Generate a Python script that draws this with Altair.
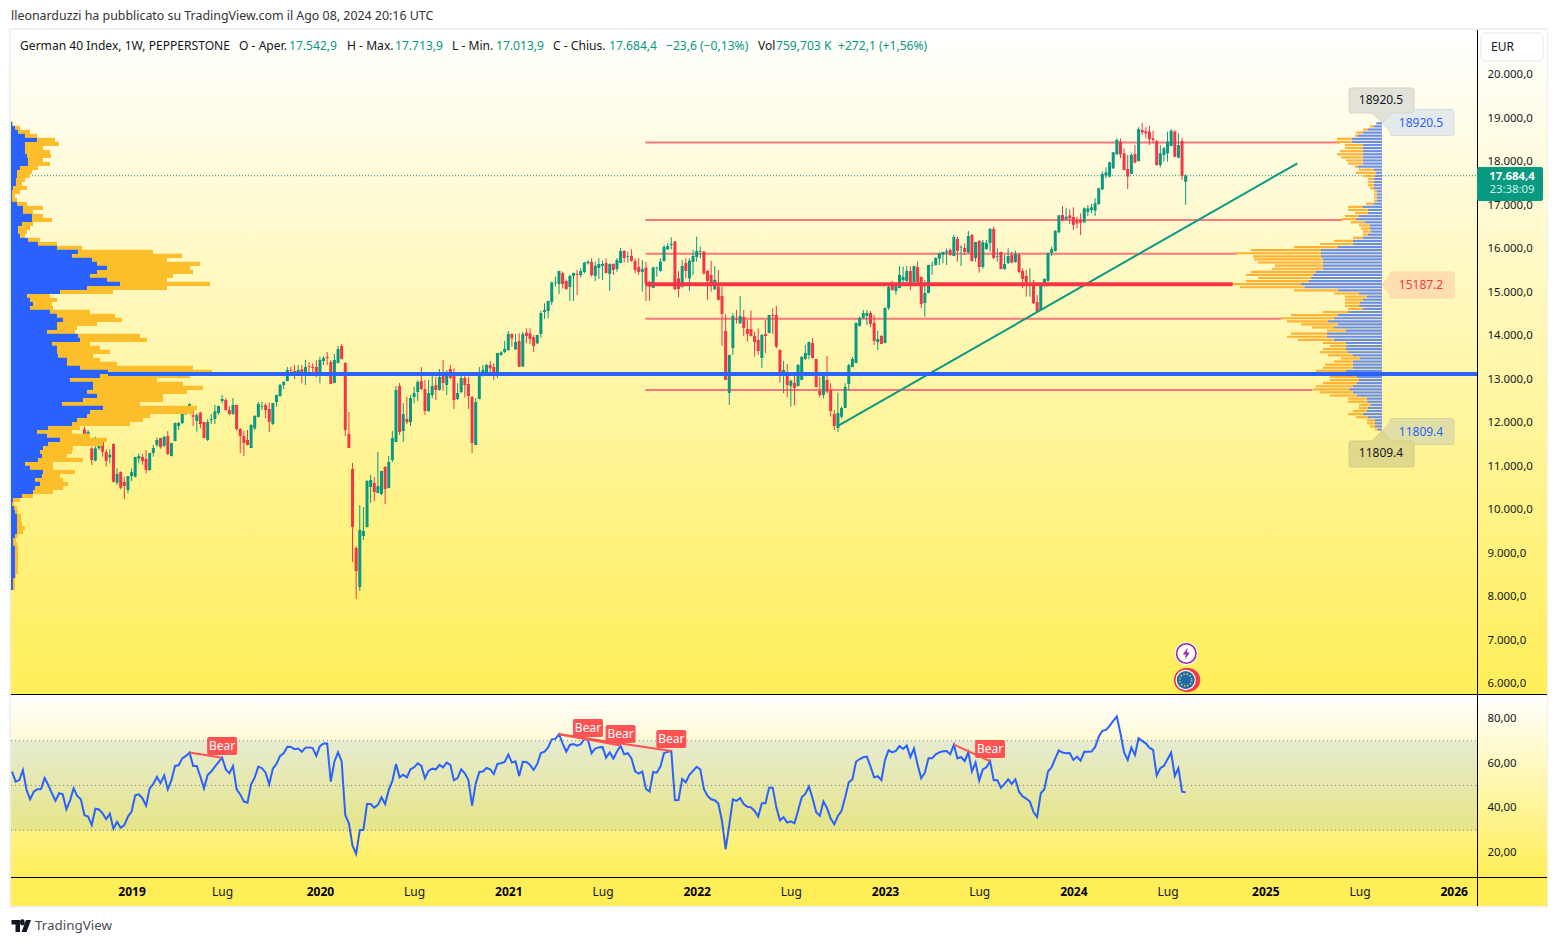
import altair as alt
import numpy as np
import pandas as pd

# ---------- weekly candles, first bar 2018-10-08 ----------
open_ = [11854,11609,11417,11133,11417,11570,11333,11210,11517,10628,
10873,10643,10459,
10781,10766,11179,11218,11172,10919,11310,11494,11655,11471,
11700,11241,11586,11930,11999,12206,12375,12176,12045,12237,
12022,11609,12068,12091,12229,12505,12528,12298,12206,12413,
11861,11700,11609,11425,11877,12137,12375,12413,12321,11976,
12482,12620,12873,12965,13210,13195,13172,13233,13172,13302,
13287,13287,13172,13425,13517,13402,12919,13379,13770,13379,
11747,10942,9126,8229,9402,9608,10528,10620,10390,10367,
10988,10505,11149,11563,12850,11815,12091,12022,12597,12712,
12965,12781,12275,12643,12873,12758,13080,12873,13241,13080,
12551,12712,13034,12896,12597,11494,12551,13126,13172,13333,
13287,13172,13563,13632,13678,14045,13693,13884,13295,14077,
14062,13970,13832,14046,14552,14575,14782,15226,15196,15449,
15265,15127,15380,15426,15403,15472,15671,15701,15380,15563,
15609,15678,15426,15655,15540,15678,15954,15824,15839,15724,
15587,15472,15571,15249,15104,15556,15495,15724,15993,16092,
16169,15326,15134,15678,15326,15701,15816,15939,15939,15495,
15403,15073,15134,14920,14115,12690,13724,14383,14292,14437,
14161,14161,14000,13908,13495,14046,14069,14483,14483,13678,
13104,13173,12851,12920,12851,12989,13471,13563,13839,13471,
12736,12644,12989,12759,12207,11885,12146,12345,12897,13288,
13380,14230,14414,14460,14529,14299,13862,14000,13839,14644,
15173,15035,15104,15288,15265,15495,15242,15587,15357,14759,
14989,15617,15632,15778,15862,15916,15977,15839,16230,16031,
16023,15916,16322,15793,16184,15587,16000,16138,16460,15824,
15931,15540,15678,15862,15701,15862,15495,15380,15180,15173,
14782,14598,15165,15265,15908,15954,16383,16781,16682,16774,
16735,16666,16666,16613,16850,16896,16881,17034,17371,17686,
17663,17854,18176,18467,18199,17839,17724,18184,18023,18735,
18705,18697,18544,18483,17931,18161,18199,18368,18697,18099,
18483,17542.9]
high = [11915,11830,11455,11685,11640,11570,11394,11394,11532,10957,
10888,10766,10781,
10957,11225,11302,11287,11379,11310,11494,11670,11655,11700,
11815,11540,12015,12022,12260,12375,12450,12375,12222,12260,
12030,12084,12206,12413,12400,12643,12574,12390,12574,12420,
11884,11815,11838,11976,12183,12482,12482,12451,12467,12467,
12650,12896,12965,13287,13294,13333,13333,13333,13448,13402,
13371,13448,13524,13540,13632,13448,13586,13770,13816,13402,
12252,11080,9172,10114,10068,10689,10804,10758,11333,10900,
11011,11241,11815,12850,12919,12459,12597,12643,12835,12988,
13287,12988,12988,13103,13064,13241,13448,13218,13333,13256,
12911,13126,13103,13064,12620,12574,13287,13333,13356,13425,
13371,13615,13650,13884,14114,14061,14045,14061,14100,14176,
14176,14023,14030,14575,14751,14810,15249,15364,15500,15479,
15303,15403,15456,15517,15556,15709,15740,15786,15709,15786,
15732,15786,15671,15671,15793,16023,15977,15939,15993,15786,
15786,15747,15709,15250,15594,15594,15786,16092,16131,16269,
16184,15495,15747,15786,15786,15977,16284,16054,15954,15518,
15724,15609,15518,15134,14506,13570,14521,14598,14920,14598,
14368,14583,14100,14176,14046,14368,14490,14636,14690,13694,
13426,13357,13004,13157,13357,13540,13793,13870,13954,13475,
13065,13085,13540,12912,12299,12697,12376,12912,13357,13518,
14314,14445,14598,14598,14575,14483,14123,14023,14659,15173,
15265,15211,15609,15594,15609,15609,15615,15709,15364,15288,
15640,15709,15809,15916,15940,16008,16016,16322,16284,16092,
16131,16414,16345,16165,16207,16207,16207,16483,16514,16016,
15939,15862,16016,15939,15962,15901,15556,15518,15556,15288,
14943,15211,15326,15924,16054,16437,16780,16988,16935,16912,
16958,16743,16820,16958,17011,17034,17165,17400,17778,17877,
18007,18230,18544,18544,18314,18161,18214,18391,18797,18904,
18797,18827,18720,18506,18391,18352,18697,18758,18735,18659,
18559,17713.9]
low = [11647,11570,11034,11118,11380,11225,10996,11072,10628,10574,
10474,10252,10382,
10666,10750,11072,11034,10842,10900,11225,11455,11409,11455,
11264,11230,11578,11838,11976,12183,12360,11930,11800,11877,
11650,11586,11976,11976,12183,12451,12283,12176,12191,11823,
11310,11241,11486,11420,11838,12130,12298,12107,11792,11953,
12375,12605,12781,12957,13103,13011,13126,12911,12873,13172,
13172,13049,12911,13333,13333,12890,12915,13371,13463,11700,
11420,8804,7953,8137,9310,9600,10160,10206,10382,10344,
10137,10500,11103,11560,11723,11563,11976,11930,12451,12505,
12758,12183,12252,12566,12528,12743,12743,12643,13003,12321,
12528,12681,12582,12321,11310,11490,12545,13064,13126,13126,
12988,13034,13540,13601,13662,13754,13678,13290,13288,13832,
13816,13632,13816,13962,14391,14406,14713,15134,14966,15096,
15058,14805,14805,14943,15341,15441,15640,15364,15265,15311,
15288,15441,15035,15403,15479,15671,15686,15686,15709,15441,
15403,15019,14805,14805,15096,15364,15479,15709,15977,15993,
15058,14889,15111,15326,15035,15403,15709,15786,15403,14828,
15019,15058,14820,13770,12985,12414,13563,14292,14276,14000,
13870,13985,13525,13563,13265,13602,14062,14046,13717,12927,
12682,12590,12376,12406,12835,12985,13449,13464,13479,12820,
12590,12567,12682,12146,11839,11793,12107,12340,12743,13280,
13375,14215,14399,14253,14200,13793,13678,13810,13832,14598,
15043,14950,15096,15173,15173,15058,15226,15211,14644,14445,
14981,15403,15617,15632,15671,15632,15847,15835,15709,15609,
15862,15901,15709,15709,15456,15548,15977,15939,15763,15709,
15533,15518,15655,15671,15686,15441,15096,14904,14904,14736,
14537,14583,15134,15249,15839,15939,16360,16628,16666,16574,
16437,16475,16322,16605,16758,16820,16758,17011,17356,17624,
17647,17839,18161,18084,17810,17379,17720,17969,18007,18620,
18544,18391,18429,17908,17877,18007,18007,18360,18107,18084,
17586,17013.9]
close = [11685,11800,11149,11417,11570,11340,11126,11271,10651,10827,
10513,10551,10781,
10873,11218,11241,11126,10919,11310,11425,11609,11448,11685,
11287,11540,11999,11999,12229,12260,12436,12145,12183,11976,
11655,12022,12091,12268,12390,12551,12298,12206,12413,11861,
11700,11540,11494,11953,12160,12436,12390,12298,12022,12459,
12643,12873,12942,13218,13195,13172,13218,13172,13287,13287,
13264,13172,13448,13494,13494,12896,13448,13701,13471,11838,
11425,9608,8597,9540,9517,10666,10689,10413,10551,10896,
10482,11103,11655,12758,11792,12206,12022,12574,12689,12942,
12781,12275,12689,12850,12758,13057,12919,13080,13034,12528,
12689,13034,12873,12620,11540,12482,13103,13218,13333,13256,
13157,13609,13624,13701,14045,13946,13861,13295,14046,14000,
13931,13770,14023,14529,14598,14805,15226,15242,15495,15196,
15081,15380,15449,15403,15495,15686,15709,15403,15617,15655,
15655,15449,15655,15517,15747,15954,15793,15839,15724,15517,
15472,15540,15211,15134,15571,15571,15709,16046,16069,16115,
15073,15081,15609,15495,15732,15839,15954,15954,15441,15265,
15173,15288,14828,14506,12989,13563,14460,14368,14460,14184,
14046,14000,13862,13655,14023,14000,14483,14460,13755,13173,
13219,12874,12966,12805,13334,13518,13609,13862,13495,12828,
12644,13081,12720,12276,11931,12230,12345,12828,13334,13471,
14299,14414,14529,14529,14276,13885,13931,13816,14644,15127,
15058,15173,15403,15357,15495,15196,15609,15242,14736,14989,
15632,15632,15793,15901,15931,15947,15862,16276,15954,16046,
15931,16299,15724,16161,15587,16161,16138,16460,15793,15839,
15540,15655,15839,15686,15885,15472,15311,15242,15196,14751,
14552,15173,15311,15908,16000,16414,16774,16666,16743,16705,
16551,16590,16605,16935,16935,16958,17050,17394,17724,17762,
17992,18222,18506,18176,17816,17663,18161,17984,18758,18682,
18659,18521,18506,17931,18199,18314,18467,18720,18122,18391,
17678,17684.4]

# ---------- weekly RSI, first value 2018-05-21 ----------
rsi = [56.2,51.7,52.4,56.9,48.0,43.8,47.2,48.3,48.4,53.3,50.2,46.5,43.2,46.5,46.0,39.3,43.2,48.7,45.3,43.8,
36.7,36.1,32.3,39.6,39.3,37.5,34.9,37.4,30.7,33.8,31.1,32.3,36.1,
38.3,45.6,46.0,44.3,41.0,48.7,50.7,53.8,51.0,54.5,
48.3,52.4,58.7,59.0,62.1,63.2,64.7,58.7,58.7,53.9,
48.7,54.7,56.2,58.4,60.4,62.4,57.2,55.4,58.7,48.3,
46.0,42.8,42.3,50.5,53.6,58.4,57.7,55.7,50.5,57.5,
59.6,63.2,64.4,67.3,67.2,66.2,66.5,65.0,66.9,67.0,
66.7,63.2,67.6,68.7,68.7,51.7,60.7,64.8,60.7,36.7,
33.1,23.1,19.4,30.1,30.1,41.7,41.7,40.1,41.3,44.6,
41.7,48.0,52.0,59.6,53.6,54.8,53.6,57.2,58.1,59.9,
58.7,53.2,56.5,57.5,57.2,59.2,58.1,60.2,59.2,52.3,
53.3,57.2,55.4,52.4,41.0,50.8,56.0,56.2,57.8,57.2,
55.1,59.6,59.9,60.5,63.8,60.2,60.8,54.2,60.6,60.5,
59.2,56.9,59.6,64.5,65.1,67.0,70.6,70.8,72.9,68.8,
65.1,68.1,68.5,67.8,68.4,70.8,70.3,64.4,66.5,67.0,
67.2,62.4,64.8,62.0,65.1,67.8,63.9,64.4,62.1,56.3,
55.3,56.2,48.4,47.3,56.0,55.7,58.4,64.5,65.0,65.4,
43.4,43.5,52.9,51.4,54.7,56.5,58.3,57.2,48.4,45.3,
43.8,43.4,41.9,34.1,21.5,32.3,43.8,43.1,44.3,41.7,
40.5,40.2,38.6,36.1,42.0,42.0,49.0,49.0,40.2,34.4,
35.8,33.4,34.0,33.1,38.7,44.7,46.2,49.5,44.3,38.0,
36.4,42.8,39.8,35.2,32.6,36.4,38.7,44.7,51.4,52.7,
60.6,61.8,62.6,62.9,58.4,53.6,54.1,52.4,61.4,65.7,
64.8,65.4,67.6,66.3,67.8,62.7,66.5,59.2,53.2,55.7,
62.1,62.1,63.9,64.8,65.3,65.4,63.9,68.2,62.1,62.7,
60.9,64.8,56.2,60.2,52.2,57.2,58.1,60.9,52.3,52.4,
49.0,50.7,52.7,50.7,52.7,47.2,45.1,44.1,42.8,38.1,
35.8,46.5,48.3,56.2,58.1,62.1,65.6,64.7,64.4,64.5,
61.4,62.9,61.1,65.0,65.0,65.1,67.1,71.8,74.4,74.8,
76.6,78.8,80.8,73.3,64.7,61.4,66.9,63.6,71.1,69.9,
68.8,66.9,65.9,54.5,57.7,58.7,61.7,64.7,54.2,57.7,
47.2,46.9]

# ---------- volume profile on the left (fixed range) ----------
left_up = [1,4,7,14,26,14,14,14,16,17,17,9,6,6,5,5,2,1,1,1,6,12,12,21,21,11,7,7,9,17,27,46,67,61,81,86,96,86,79,96,109,76,49,16,19,22,19,
39,46,52,46,46,36,67,69,41,46,46,47,56,56,69,97,89,59,82,82,76,86,72,51,92,79,76,66,61,37,26,36,49,37,32,29,31,27,14,19,32,31,24,29,24,22,11,2,1,3,4,6,6,6,6,6,4,2,2,4,
4,4,4,4,4,4,4,2,2,2]
left_total = [2,9,19,26,44,48,32,39,40,32,39,27,21,19,14,11,16,9,4,6,16,32,22,32,41,22,19,16,14,29,46,71,142,171,156,189,179,182,162,156,199,156,102,39,46,41,42,
79,104,111,86,66,64,129,136,79,89,99,82,89,106,182,201,179,146,172,192,176,152,152,129,186,182,139,132,119,69,61,79,96,92,62,61,56,72,42,42,64,49,52,57,52,42,22,9,3,6,7,10,10,11,14,12,7,5,6,7,
7,7,7,7,7,7,5,4,4,4]

# ---------- visible range volume profile on the right (100 rows) ----------
right_up = [5.7,8,14,19,24,30,30,19,19,19,19,19,19,19,24,8,6,7,8,8,8,8,5,5,5,5,8,19,14,14,23,26,17,12,12,11,14,19,29,29,44,61,61,61,59,59,59,59,66,69,71,73,81,77,44,
23,15,19,22,23,19,34,44,48,54,44,48,36,55,55,48,36,36,36,34,29,22,29,29,29,36,36,25,23,25,29,33,29,25,15,15,11,14,15,19,14,7,7,7,4]
right_total = [5.7,12,19,26,27,45,47,37,37,42,45,41,36,34,27,23,26,19,14,14,14,12,8,8,8,8,16,34,34,27,37,41,31,23,21,19,19,29,48,62,88,131,146,129,128,124,107,110,131,136,124,136,149,142,88,
48,37,37,37,37,34,59,91,101,95,81,70,55,91,95,84,59,52,59,62,54,41,48,57,59,66,66,52,52,59,66,69,62,52,34,34,23,23,29,34,26,15,15,12,7]

# ---------- drawn levels ----------
level_price = [18445, 16667, 15893, 14398, 12759]
level_end = ["2025-05-30", "2025-06-03", "2024-11-12", "2025-02-05", "2025-04-07"]
level_start = "2021-09-26"
poc_red = 15187.2
poc_blue = 13126
last_price = 17684.4
trend_dates = ["2022-10-03", "2025-03-09"]
trend_price = [11931, 17970]

year_ticks = ["2019-01-07","2020-01-06","2021-01-04","2022-01-03","2023-01-02","2024-01-01","2025-01-06","2026-01-05"]
july_ticks = ["2019-07-01","2020-07-06","2021-07-05","2022-07-04","2023-07-03","2024-07-01","2025-07-07"]
price_ticks = [6000,7000,8000,9000,10000,11000,12000,13000,14000,15000,16000,17000,18000,19000,20000]
rsi_ticks = [20,40,60,80]
rsi_levels = [70,50,30]

bear_start = ["2019-04-29","2021-04-12","2021-04-12","2021-04-12","2023-05-15"]
bear_end = ["2019-07-01","2021-06-07","2021-08-09","2021-11-15","2023-07-24"]
bear_from = [64.7,72.9,72.9,72.9,68.2]
bear_to = [62.4,70.8,67.8,65.4,60.9]
bear_label = [67.65,75.7,73.0,70.8,66.3]

BG_TOP, BG_BOT = "#FFFFFF", "#FFEE58"
GREEN, RED, BLUE = "#089981", "#F23645", "#2962FF"
FONT = "Noto Sans"
W, H = 1536, 876
PLOT_W = 1466


def ms(d):
    return int(pd.Timestamp(d, tz="UTC").timestamp() * 1000)


x_time = alt.Scale(type="utc", domain=[ms("2018-05-19"), ms("2026-02-19")], range=[0, PLOT_W])
y_price = alt.Scale(domain=[5770, 21034], range=[664, 0])
y_rsi = alt.Scale(domain=[9.1, 90.4], range=[847, 665])
x_left = alt.Scale(domain=[0, PLOT_W], range=[0, PLOT_W])
x_right = alt.Scale(domain=[0, 1371], range=[1371, 0])

dates = pd.date_range("2018-10-08", periods=len(close), freq="7D").strftime("%Y-%m-%d")
candles = pd.DataFrame({"d": dates, "o": open_, "h": high, "l": low, "c": close})
candles["top"] = candles[["o", "c"]].max(axis=1)
candles["bot"] = candles[["o", "c"]].min(axis=1)
up = candles[candles.c >= candles.o]
dn = candles[candles.c < candles.o]

rsi_df = pd.DataFrame({"d": pd.date_range("2018-05-21", periods=len(rsi), freq="7D").strftime("%Y-%m-%d"), "v": rsi})

row = np.arange(len(left_up))
left_df = pd.DataFrame({"p1": 18875 + 48 - 91.95 * row, "p2": 18875 - 48 - 91.95 * row,
                        "zero": 0, "up": left_up, "total": left_total})
step = (18920.5 - 11809.4) / 100
row = np.arange(len(right_up))
right_df = pd.DataFrame({"p1": 18920.5 - step * row - step * 0.10, "p2": 18920.5 - step * row - step * 0.80,
                         "zero": 0, "up": right_up, "total": right_total})
level_df = pd.DataFrame({"a": level_start, "b": level_end, "p": level_price})
trend_df = pd.DataFrame({"d": trend_dates, "p": trend_price})
bear_df = pd.DataFrame({"a": bear_start, "b": bear_end, "v1": bear_from, "v2": bear_to, "c": bear_label})
one = alt.Data(values=[{"a": 1}])


def X(f="d:T", **kw):
    return alt.X(f, scale=x_time, axis=kw.pop("axis", None), title=None)


def YP(f, **kw):
    return alt.Y(f, scale=y_price, axis=kw.pop("axis", None), title=None)


def YR(f, **kw):
    return alt.Y(f, scale=y_rsi, axis=kw.pop("axis", None), title=None)


def px_rect(x1, x2, y1, y2, **mk):
    return alt.Chart(one).mark_rect(**mk).encode(
        x=alt.value(x1 - 11), x2=alt.value(x2 - 11), y=alt.value(y1 - 30), y2=alt.value(y2 - 30))


def px_text(s, x, y, color="#131722", size=12.1, weight="normal", align="left", font=FONT):
    return alt.Chart(one).mark_text(text=s, color=color, fontSize=size, fontWeight=weight, align=align,
                                    baseline="middle", font=font).encode(
        x=alt.value(x - 11), y=alt.value(y - 30))


def px_sym(shape, x, y, size=4, **mk):
    return alt.Chart(one).mark_point(shape=shape, size=size, opacity=1, **mk).encode(
        x=alt.value(x - 11), y=alt.value(y - 30))


def px_hline(y, color="#000000", x1=11, x2=1547, width=1):
    return alt.Chart(one).mark_rule(color=color, strokeWidth=width).encode(
        x=alt.value(x1 - 11), x2=alt.value(x2 - 11), y=alt.value(y - 30))


grad = alt.LinearGradient(gradient="linear", x1=0, x2=0, y1=0, y2=1,
                          stops=[alt.GradientStop(color=BG_TOP, offset=0), alt.GradientStop(color=BG_BOT, offset=1)])

layers = [
    px_rect(9, 1548, 28, 908, color="#EEF0F5"),
    px_rect(11, 1547, 30, 694, color=grad),
    px_rect(11, 1547, 695, 877, color=grad),
    px_rect(11, 1547, 877, 906, color=BG_BOT),
]

# RSI band and dotted levels
layers.append(alt.Chart(one).mark_rect(color="#056FA3", opacity=0.1).encode(
    x=alt.value(0), x2=alt.value(PLOT_W), y=YR("datum_a:Q"), y2=alt.Y2("datum_b:Q")
).transform_calculate(datum_a="70", datum_b="30"))
layers.append(alt.Chart(pd.DataFrame({"v": rsi_levels})).mark_rule(color="#787B86", strokeDash=[1, 3], strokeWidth=1).encode(
    x=alt.value(0), x2=alt.value(PLOT_W), y=YR("v:Q")))

# thin levels below the candles
layers.append(alt.Chart(level_df).mark_rule(color="#F9777B", strokeWidth=2).encode(
    x=X("a:T"), x2="b:T", y=YP("p:Q")))

# candles
price_axis = alt.Axis(orient="right", offset=-(W - PLOT_W), values=price_ticks, domain=False, ticks=False, grid=False,
                      labelPadding=10, labelFontSize=11.4, labelColor="#131722", labelFont=FONT, zindex=1,
                      labelExpr="replace(format(datum.value, ',d'), ',', '.') + ',0'", labelOverlap=False, labelBound=False)
layers += [
    alt.Chart(up).mark_rule(color=GREEN, strokeWidth=1).encode(x=X(), y=YP("l:Q"), y2="h:Q"),
    alt.Chart(dn).mark_rule(color=RED, strokeWidth=1).encode(x=X(), y=YP("l:Q"), y2="h:Q"),
    alt.Chart(up).mark_rule(color=GREEN, strokeWidth=3).encode(x=X(), y=YP("bot:Q", axis=price_axis), y2="top:Q"),
    alt.Chart(dn).mark_rule(color=RED, strokeWidth=3).encode(x=X(), y=YP("bot:Q"), y2="top:Q"),
]

# last price dotted line, trend line
layers.append(alt.Chart(pd.DataFrame({"p": [last_price]})).mark_rule(color=GREEN, strokeDash=[1, 2], strokeWidth=1).encode(
    x=alt.value(0), x2=alt.value(PLOT_W), y=YP("p:Q")))
layers.append(alt.Chart(trend_df).mark_line(color=GREEN, strokeWidth=2).encode(x=X(), y=YP("p:Q")))

# thick point-of-control line, red
layers.append(alt.Chart(pd.DataFrame({"a": [level_start], "b": ["2024-11-04"], "p": [poc_red]})).mark_rule(color=RED, strokeWidth=4).encode(
    x=X("a:T"), x2="b:T", y=YP("p:Q")))

# left profile
layers += [
    alt.Chart(left_df).mark_rect(color="#FCBF2B").encode(
        x=alt.X("up:Q", scale=x_left, axis=None), x2="total:Q", y=YP("p1:Q"), y2="p2:Q"),
    alt.Chart(left_df).mark_rect(color=BLUE).encode(
        x=alt.X("zero:Q", scale=x_left, axis=None), x2="up:Q", y=YP("p1:Q"), y2="p2:Q"),
]
# right profile
layers += [
    alt.Chart(right_df).mark_rect(color="#FFB233").encode(
        x=alt.X("up:Q", scale=x_right, axis=None), x2="total:Q", y=YP("p1:Q"), y2="p2:Q"),
    alt.Chart(right_df).mark_rect(color="#6B8EE8").encode(
        x=alt.X("zero:Q", scale=x_right, axis=None), x2="up:Q", y=YP("p1:Q"), y2="p2:Q"),
]
# blue point-of-control line
layers.append(alt.Chart(pd.DataFrame({"p": [poc_blue]})).mark_rule(color=BLUE, strokeWidth=4).encode(
    x=alt.value(108 - 11), x2=alt.value(PLOT_W), y=YP("p:Q")))

# RSI line + divergences
time_axis = alt.Axis(orient="bottom", offset=-29, values=[ms(d) for d in year_ticks + july_ticks], domain=False, ticks=False,
                     grid=False, labelPadding=9, labelFontSize=12, labelFont=FONT, zindex=1, labelOverlap=False,
                     labelBound=False, labelFlush=False, labelAngle=0,
                     labelExpr="utcmonth(datum.value) == 0 ? '' + utcyear(datum.value) : 'Lug'",
                     labelFontWeight={"condition": {"test": "utcmonth(datum.value) == 0", "value": "bold"}, "value": "normal"},
                     labelColor={"condition": {"test": "utcmonth(datum.value) == 0", "value": "#000000"}, "value": "#131722"})
rsi_axis = alt.Axis(orient="right", offset=-(W - PLOT_W), values=rsi_ticks, domain=False, ticks=False, grid=False,
                    labelPadding=10, labelFontSize=11.4, labelColor="#131722", labelFont=FONT, zindex=1,
                    labelExpr="replace(format(datum.value, '.2f'), '.', ',')", labelBound=False)
layers.append(alt.Chart(rsi_df).mark_line(color=BLUE, strokeWidth=2).encode(
    x=alt.X("d:T", scale=x_time, axis=time_axis, title=None), y=YR("v:Q", axis=rsi_axis)))
layers.append(alt.Chart(bear_df).mark_rule(color="#FF5252", strokeWidth=2).encode(
    x=X("a:T"), x2="b:T", y=YR("v1:Q"), y2="v2:Q"))
bear_box = "M-13-9H13Q15-9 15-7V7Q15 9 13 9H-13Q-15 9-15 7V-7Q-15-9-13-9Z"
layers.append(alt.Chart(bear_df).mark_point(shape=bear_box, size=4, filled=True, fill="#FF5252", opacity=1).encode(
    x=X("b:T"), y=YR("c:Q")))
layers.append(alt.Chart(bear_df.assign(t="Bear")).mark_text(color="#FFFFFF", fontSize=12, font=FONT, baseline="middle").encode(
    x=X("b:T"), y=YR("c:Q"), text="t:N"))

# frame lines
layers += [
    px_hline(694.5),
    px_hline(877.5),
    alt.Chart(one).mark_rule(color="#000000", strokeWidth=1).encode(
        x=alt.value(1477.5 - 11), y=alt.value(0), y2=alt.value(876)),
]

# price tags (tip at origin of each path)
tag_right = "M0 0L8-9V-11Q8-13 10-13H70Q72-13 72-11V11Q72 13 70 13H10Q8 13 8 11V9Z"
tag_up = "M0 0L-10-9H-31Q-33-9-33-11V-32Q-33-34-31-34H30Q32-34 32-32V-11Q32-9 30-9H10Z"
tag_dn = "M0 0L-10 10H-31Q-33 10-33 12V34Q-33 36-31 36H30Q32 36 32 34V12Q32 10 30 10H10Z"
layers += [
    px_sym(tag_right, 1382, 122.5, filled=True, fill="#E4E9EA", stroke="#D8DDE0", strokeWidth=1),
    px_sym(tag_up, 1382, 122, filled=True, fill="#E3E2D9", stroke="#D6D5CB", strokeWidth=1),
    px_sym(tag_right, 1382, 285, filled=True, fill="#FFDFB0", stroke="#F9D6A6", strokeWidth=1),
    px_sym(tag_right, 1382, 431.5, filled=True, fill="#E2DFA6", stroke="#D8D59C", strokeWidth=1),
    px_sym(tag_dn, 1382, 431, filled=True, fill="#E0D88C", stroke="#D4CC80", strokeWidth=1),
    px_text("18920.5", 1421, 123, color=BLUE, size=12, align="center"),
    px_text("18920.5", 1381, 100, color="#131722", size=12, align="center"),
    px_text("15187.2", 1421, 285, color=RED, size=12, align="center"),
    px_text("11809.4", 1421, 432, color=BLUE, size=12, align="center"),
    px_text("11809.4", 1381, 453, color="#131722", size=12, align="center"),
]

# event icons
layers += [
    px_sym("circle", 1186.3, 653.5, size=529, filled=True, fill="#FFFFFF"),
    px_sym("circle", 1186.3, 653.5, size=380, filled=False, stroke="#9C27B0", strokeWidth=1.6),
    px_sym("M1.5-6L-3.5 1H-.5L-1.5 6L3.5-1H.5Z", 1186.3, 653.5, filled=True, fill="#9C27B0"),
    px_sym("circle", 1188.5, 680, size=484, filled=True, fill="#FFFFFF", stroke=RED, strokeWidth=1.6),
    px_sym("circle", 1187, 680, size=484, filled=True, fill="#FFFFFF", stroke=RED, strokeWidth=1.6),
    px_sym("circle", 1185.7, 680, size=484, filled=True, fill="#FFFFFF", stroke=RED, strokeWidth=1.6),
    px_sym("circle", 1185.7, 680, size=324, filled=True, fill="#1F69B0"),
    px_sym("circle", 1185.7, 680, size=144, filled=False, stroke="#E8C42E", strokeWidth=1.6, strokeDash=[1.5, 1.65]),
]

# right strip boxes
layers += [
    alt.Chart(one).mark_rect(color="#FFFFFF", stroke="#E6E8EE", cornerRadius=4, strokeWidth=1).encode(
        x=alt.value(1481 - 11), x2=alt.value(1543 - 11), y=alt.value(33 - 30), y2=alt.value(61 - 30)),
    px_text("EUR", 1491, 47, size=12),
    alt.Chart(one).mark_rect(color=GREEN, cornerRadius=2).encode(
        x=alt.value(1477 - 11), x2=alt.value(1543 - 11), y=alt.value(167 - 30), y2=alt.value(201 - 30)),
    px_text("17.684,4", 1512, 176.5, color="#FFFFFF", size=11.4, weight="bold", align="center"),
    px_text("23:38:09", 1512, 190, color="#D5EFEA", size=11.4, align="center"),
]

# header, legend, footer
ink = "#131722"
layers += [
    px_text("lleonarduzzi ha pubblicato su TradingView.com il Ago 08, 2024 20:16 UTC", 11, 16, color="#333333", size=12.4),
    px_text("German 40 Index, 1W, PEPPERSTONE", 20, 46, color=ink),
    px_text("O - Aper.", 239, 46, color=ink),
    px_text("17.542,9", 289, 46, color=GREEN),
    px_text("H - Max.", 347, 46, color=ink),
    px_text("17.713,9", 395, 46, color=GREEN),
    px_text("L - Min.", 452, 46, color=ink),
    px_text("17.013,9", 496, 46, color=GREEN),
    px_text("C - Chius.", 553, 46, color=ink),
    px_text("17.684,4", 609, 46, color=GREEN),
    px_text("\u221223,6 (\u22120,13%)", 666, 46, color=GREEN),
    px_text("Vol", 758, 46, color=ink),
    px_text("759,703 K", 776, 46, color=GREEN),
    px_text("+272,1 (+1,56%)", 838, 46, color=GREEN),
    px_sym("M0 0H8.5V12H4V4.5H0ZM13 2.3A2.3 2.3 0 1 1 8.7 2.3A2.3 2.3 0 1 1 13 2.3ZM19.5 0L15 12H10L14.5 0Z", 11.5, 920, filled=True, fill="#131722"),
    px_text("TradingView", 35, 926, color="#4A4E57", size=13.4),
]

chart = alt.layer(*layers).resolve_scale(x="independent", y="independent").properties(
    width=W, height=H,
    autosize=alt.AutoSizeParams(type="none"),
    padding={"left": 3, "top": 22, "right": 3, "bottom": 28},
    background="#FFFFFF",
).configure_view(stroke=None)

chart.save("out.html", embed_options={"renderer": "svg", "actions": False})
